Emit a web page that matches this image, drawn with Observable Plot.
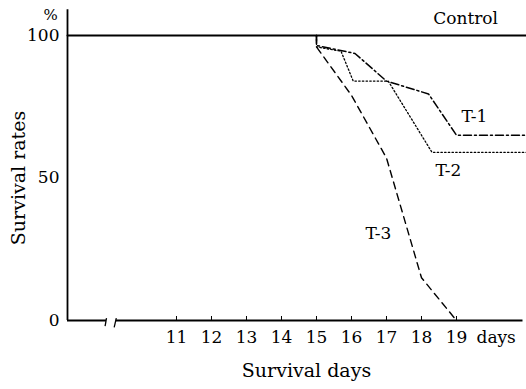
<!DOCTYPE html>
<html><head><meta charset="utf-8">
<script src="https://cdn.jsdelivr.net/npm/d3@7"></script>
<script src="https://cdn.jsdelivr.net/npm/@observablehq/plot@0.6"></script>
<style>body{margin:0;background:#fff} svg{display:block}</style>
</head><body><div id="chart"></div>
<script>
// ---- data ----
const dayTicks = [11, 12, 13, 14, 15, 16, 17, 18, 19];
const rateTicks = [0, 50, 100];

const controlDays = [7.886, 21];
const controlRate = [100, 100];

const t1Days = [15, 15, 16.1, 17, 18.2, 19, 21];
const t1Rate = [100, 96.5, 93.7, 84, 79.5, 65, 65];

const t2Days = [15, 15, 15.7, 16.05, 17.05, 18.3, 21];
const t2Rate = [100, 96, 94.5, 84, 84, 59, 59];

const t3Days = [15, 15, 16, 16.5, 17, 18, 19];
const t3Rate = [100, 96, 79, 68, 57, 15, 0];

const seriesNames = ["Control", "T-1", "T-2", "T-3"];
const labelDays = [19.26, 19.51, 18.77, 16.77];
const labelRates = [106, 71.6, 52.6, 30.5];

// axis geometry (data units)
const xMin = 7.886, xMax = 21;
const axisSegStart = [xMin, 9.28];
const axisSegEnd = [9.0, 20.9];
const yAxisTop = 109;
const tickUp = 1.4;

const zip = (xs, ys) => xs.map((x, i) => ({x, y: ys[i]}));
const control = zip(controlDays, controlRate);
const t1 = zip(t1Days, t1Rate);
const t2 = zip(t2Days, t2Rate);
const t3 = zip(t3Days, t3Rate);
const labels = seriesNames.map((name, i) => ({name, x: labelDays[i], y: labelRates[i]}));
const axisSegs = axisSegStart.map((s, i) => ({x1: s, x2: axisSegEnd[i]}));
const breaks = [{x1: 9.0, x2: 8.96, y1: 0.8, y2: -2}, {x1: 9.28, x2: 9.22, y1: 0.8, y2: -2.4}];

const font = "DejaVu Serif";
const fs = 17;
const fsTitle = 19;

const chart = Plot.plot({
  width: 526, height: 389,
  marginLeft: 67, marginRight: 0, marginTop: 35, marginBottom: 69,
  x: {domain: [xMin, xMax], axis: null},
  y: {domain: [0, 100], axis: null},
  style: {fontFamily: font, fontSize: fs + "px", background: "#fff", color: "#000"},
  marks: [
    // axes lines
    Plot.ruleX([xMin], {y1: 0, y2: yAxisTop, stroke: "#000", strokeWidth: 1.8}),
    Plot.ruleY(axisSegs, {x1: "x1", x2: "x2", y: 0, stroke: "#000", strokeWidth: 1.8}),
    Plot.link(breaks, {x1: "x1", x2: "x2", y1: "y1", y2: "y2", stroke: "#000", strokeWidth: 1.3}),
    Plot.ruleX(dayTicks, {x: d => d, y1: 0, y2: tickUp, stroke: "#000", strokeWidth: 1}),
    Plot.axisX({ticks: dayTicks, tickSize: 0, tickPadding: 10, label: null, fontSize: fs}),
    Plot.axisY({ticks: rateTicks, tickSize: 0, tickPadding: 8, label: null, fontSize: fs}),
    // series
    Plot.line(control, {x: "x", y: "y", stroke: "#000", strokeWidth: 2}),
    Plot.line(t1, {x: "x", y: "y", stroke: "#000", strokeWidth: 1.5, strokeDasharray: "8,3,2,3"}),
    Plot.line(t2, {x: "x", y: "y", stroke: "#000", strokeWidth: 1.3, strokeDasharray: "1.5,2.2"}),
    Plot.line(t3, {x: "x", y: "y", stroke: "#000", strokeWidth: 1.4, strokeDasharray: "7,5"}),
    // labels
    Plot.text(labels, {x: "x", y: "y", text: "name", fontSize: fs, fill: "#000"}),
    Plot.text(["days"], {x: dayTicks[dayTicks.length - 1], y: 0, text: d => d, dx: 20, dy: 17, textAnchor: "start", fontSize: fs, fill: "#000"}),
    Plot.text(["%"], {frameAnchor: "top-left", text: d => d, textAnchor: "middle", dx: -17, dy: -26, fontSize: 15, fill: "#000"}),
    Plot.text(["Survival rates"], {frameAnchor: "left", text: d => d, textAnchor: "middle", rotate: -90, dx: -49, fontSize: fsTitle, fill: "#000"}),
    Plot.text(["Survival days"], {frameAnchor: "bottom", text: d => d, textAnchor: "middle", dx: 9.5, dy: 56, fontSize: fsTitle, fill: "#000"})
  ]
});
document.getElementById("chart").appendChild(chart);
</script>
</body></html>
